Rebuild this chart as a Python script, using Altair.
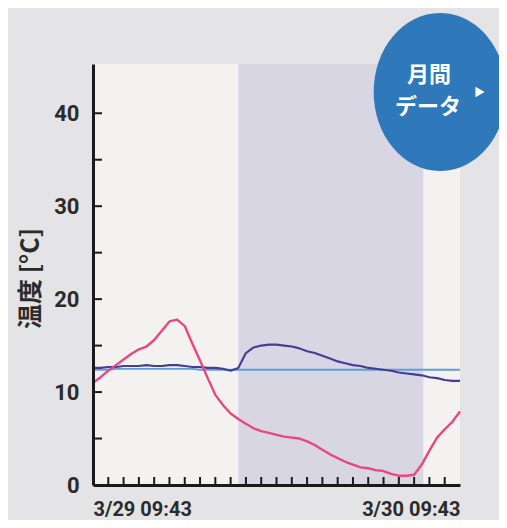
import altair as alt
import pandas as pd

# ---- data ----
hours = [i * 0.5 for i in range(49)]  # hours after 3/29 09:43
outdoor = [11.0, 11.6, 12.3, 12.9, 13.5, 14.1, 14.6, 14.9, 15.6, 16.6,
           17.6, 17.8, 17.1, 15.2, 13.4, 11.5, 9.7, 8.6, 7.7, 7.1,
           6.6, 6.1, 5.8, 5.6, 5.4, 5.2, 5.1, 5.0, 4.7, 4.3,
           3.8, 3.3, 2.9, 2.5, 2.2, 1.9, 1.8, 1.6, 1.5, 1.2,
           1.0, 1.0, 1.1, 2.2, 3.7, 5.1, 6.0, 6.8, 7.9]
indoor = [12.6, 12.6, 12.7, 12.7, 12.8, 12.8, 12.8, 12.9, 12.8, 12.8,
          12.9, 12.9, 12.8, 12.7, 12.7, 12.6, 12.6, 12.5, 12.3, 12.6,
          14.2, 14.8, 15.0, 15.1, 15.1, 15.0, 14.9, 14.7, 14.4, 14.2,
          13.9, 13.6, 13.3, 13.1, 12.9, 12.8, 12.6, 12.5, 12.4, 12.3,
          12.1, 12.0, 11.9, 11.8, 11.6, 11.5, 11.3, 11.2, 11.2]
water = [12.4, 12.4, 12.4, 12.5, 12.5, 12.5, 12.5, 12.5, 12.5, 12.5,
         12.5, 12.5, 12.5, 12.5, 12.4, 12.4, 12.4, 12.4, 12.4, 12.4,
         12.4, 12.4, 12.4, 12.4, 12.4, 12.4, 12.4, 12.4, 12.4, 12.4,
         12.4, 12.4, 12.4, 12.4, 12.4, 12.4, 12.4, 12.4, 12.4, 12.4,
         12.4, 12.4, 12.4, 12.4, 12.4, 12.4, 12.4, 12.4, 12.4]
series_names = ["water", "indoor", "outdoor"]
series_colors = ["#5f9ddb", "#463c93", "#e6487f"]

night_start = [9.5]
night_end = [21.6]

y_tick_values = [0, 10, 20, 30, 40]
y_minor = [5, 10, 15, 20, 25, 30, 35, 40]
x_minor = list(range(1, 24))
x_label_values = [0, 24]
x_labels = ["3/29 09:43", "3/30 09:43"]
y_title = "温度 [°C]"

W, H = 367, 421
NUM_FONT = "Roboto, sans-serif"

rows = []
for name, vals in zip(series_names, [water, indoor, outdoor]):
    for h, v in zip(hours, vals):
        rows.append({"h": h, "t": v, "s": name})
df = pd.DataFrame(rows)

xscale = alt.Scale(domain=[0, 24], nice=False, zero=False)
yscale = alt.Scale(domain=[0, 45.3], nice=False)

label_expr = "datum.value == %d ? '%s' : '%s'" % (x_label_values[0], x_labels[0], x_labels[1])

xaxis = alt.Axis(values=x_label_values, labelExpr=label_expr, grid=False,
                 ticks=False, tickSize=0, labelFlush=True, labelFlushOffset=0,
                 labelFont=NUM_FONT, labelFontSize=20,
                 labelFontWeight="bold", labelColor="#2b2b2b",
                 labelPadding=14, domainColor="#1a1a1a", domainWidth=3,
                 zindex=1)
yaxis = alt.Axis(values=y_tick_values, grid=False, ticks=False, tickSize=0,
                 labelFont=NUM_FONT, labelFontSize=22,
                 labelFontWeight="bold", labelColor="#2b2b2b",
                 labelPadding=14, domainColor="#1a1a1a", domainWidth=3,
                 titleFont="Noto Sans CJK JP", titleFontSize=25,
                 titleFontWeight="bold", titleColor="#2b2b2b",
                 titleAngle=270, titleX=-63, titleY=214,
                 titleAlign="center", titleBaseline="middle",
                 zindex=1)


def X(f):
    return alt.X(f, scale=xscale, axis=xaxis, title=None)


def Y(f):
    return alt.Y(f, scale=yscale, axis=yaxis, title=y_title)


lines = alt.Chart(df).mark_line(strokeJoin="round").encode(
    x=X("h:Q"),
    y=Y("t:Q"),
    color=alt.Color("s:N", scale=alt.Scale(domain=series_names, range=series_colors), legend=None),
    strokeWidth=alt.StrokeWidth("s:N", scale=alt.Scale(domain=series_names, range=[1.8, 2.4, 2.4]), legend=None),
    order=alt.Order("h:Q"),
)

night = alt.Chart(pd.DataFrame({"a": night_start, "b": night_end})).mark_rect(
    color="#d9d6e4"
).encode(
    x=X("a:Q"),
    x2="b:Q",
)

yt = alt.Chart(pd.DataFrame({"v": y_minor})).mark_rule(color="#1a1a1a", strokeWidth=2).encode(
    y=Y("v:Q"),
    x=alt.value(0), x2=alt.value(9),
)
xt = alt.Chart(pd.DataFrame({"v": x_minor})).mark_rule(color="#1a1a1a", strokeWidth=2).encode(
    x=X("v:Q"),
    y=alt.value(H), y2=alt.value(H - 8),
)

one = pd.DataFrame({"k": [0]})
ellipse = "M0,-1 A0.84,1 0 1,1 0,1 A0.84,1 0 1,1 0,-1 Z"
badge = alt.Chart(one).mark_point(shape=ellipse, filled=True, color="#2f78b9",
                                  opacity=1, size=158 * 158, strokeWidth=0).encode(
    x=alt.value(347), y=alt.value(28))
t1 = alt.Chart(one).mark_text(font="Noto Sans CJK JP", fontSize=22, color="white",
                              fontWeight="bold").encode(
    x=alt.value(336), y=alt.value(11), text=alt.value("月間"))
t2 = alt.Chart(one).mark_text(font="Noto Sans CJK JP", fontSize=22, color="white",
                              fontWeight="bold").encode(
    x=alt.value(335), y=alt.value(43), text=alt.value("データ"))
tri = alt.Chart(one).mark_point(shape="triangle-right", filled=True, color="white",
                                opacity=1, size=110, strokeWidth=0).encode(
    x=alt.value(387), y=alt.value(28))

chart = alt.layer(night, lines, yt, xt, badge, t1, t2, tri).properties(
    width=W, height=H,
    autosize=alt.AutoSizeParams(type="none"),
    padding={"left": 85, "top": 56, "right": 39, "bottom": 35},
    background="#e4e3e5",
).configure_view(fill="#f4f2f1", stroke=None)

chart.save("out.html", embed_options={"renderer": "svg", "actions": False})
